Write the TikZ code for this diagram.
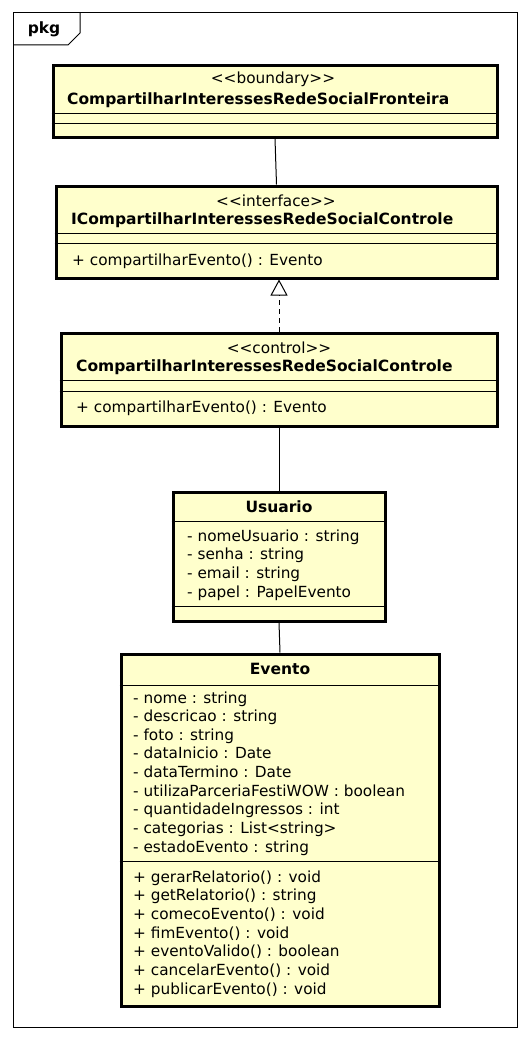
\documentclass[tikz,border=0pt]{standalone}
\usepackage{fontspec}
\setmainfont{DejaVu Sans}
\usetikzlibrary{arrows.meta}
\definecolor{clsfill}{RGB}{255,255,204}
\newcommand{\stereo}[1]{<\kern0pt<#1>\kern0pt>}
\begin{document}
\begin{tikzpicture}[x=1pt,y=-1pt,
  cls/.style={draw, line width=3pt, fill=clsfill, inner sep=0pt, rectangle},
  sep/.style={line width=1pt},
  txt/.style={inner sep=0pt, anchor=west, text height=11pt, text depth=3pt, font=\fontsize{15.3}{18}\selectfont},
  ttl/.style={inner sep=0pt, text height=11pt, text depth=3pt, font=\fontsize{15.5}{18}\selectfont\bfseries},
  ttlw/.style={ttl, anchor=west},
  st/.style={inner sep=0pt, text height=11pt, text depth=3pt, font=\fontsize{15.3}{18}\selectfont},
  conn/.style={line width=1pt},
]
\useasboundingbox (0,0) rectangle (530,1041);
% package frame
\draw[line width=1pt] (13,13) rectangle (517,1027);
\draw[line width=1pt] (13,45) -- (68,45) -- (80,33) -- (80,13);
\node[ttl] (pkg) at (44,30) {pkg};

% boundary
\node[cls, minimum width=444pt, minimum height=71pt] (b1) at (275,101.5) {};
\node[st] (b1s) at (273,80) {\stereo{boundary}};
\node[ttlw] (b1n) at (67,100) {CompartilharInteressesRedeSocialFronteira};
\draw[sep] (b1.west |- 0,113) -- (b1.east |- 0,113);
\draw[sep] (b1.west |- 0,123) -- (b1.east |- 0,123);

% interface
\node[cls, minimum width=441pt, minimum height=92pt] (b2) at (276.5,232) {};
\node[st] (b2s) at (276,202) {\stereo{interface}};
\node[ttlw] (b2n) at (71,220) {ICompartilharInteressesRedeSocialControle};
\draw[sep] (b2.west |- 0,233) -- (b2.east |- 0,233);
\draw[sep] (b2.west |- 0,243) -- (b2.east |- 0,243);
\node[txt] (b2m) at (72,261) {+ compartilharEvento() : Evento};

% control
\node[cls, minimum width=436pt, minimum height=93pt] (b3) at (279,379.5) {};
\node[st] (b3s) at (279,349) {\stereo{control}};
\node[ttlw] (b3n) at (76,367) {CompartilharInteressesRedeSocialControle};
\draw[sep] (b3.west |- 0,380) -- (b3.east |- 0,380);
\draw[sep] (b3.west |- 0,391) -- (b3.east |- 0,391);
\node[txt] (b3m) at (76,408) {+ compartilharEvento() : Evento};

% Usuario
\node[cls, minimum width=212pt, minimum height=129pt] (b4) at (279,556.5) {};
\node[ttl] (b4n) at (279,508) {Usuario};
\draw[sep] (b4.west |- 0,521) -- (b4.east |- 0,521);
\foreach \t [count=\i from 0] in {- nomeUsuario : string, - senha : string, - email : string, - papel : PapelEvento}
  \node[txt] (ua\i) at (187,537+18.67*\i) {\t};
\draw[sep] (b4.west |- 0,606) -- (b4.east |- 0,606);

% Evento
\node[cls, minimum width=318pt, minimum height=352pt] (b5) at (280,830) {};
\node[ttl] (b5n) at (280,670) {Evento};
\draw[sep] (b5.west |- 0,685) -- (b5.east |- 0,685);
\foreach \t [count=\i from 0] in {- nome : string, - descricao : string, - foto : string, - dataInicio : Date, - dataTermino : Date, - utilizaParceriaFestiWOW : boolean, - quantidadeIngressos : int, - categorias : List<string>, - estadoEvento : string}
  \node[txt] (ea\i) at (133,699+18.63*\i) {\t};
\draw[sep] (b5.west |- 0,861) -- (b5.east |- 0,861);
\foreach \t [count=\i from 0] in {+ gerarRelatorio() : void, + getRelatorio() : string, + comecoEvento() : void, + fimEvento() : void, + eventoValido() : boolean, + cancelarEvento() : void, + publicarEvento() : void}
  \node[txt] (em\i) at (133,878+18.67*\i) {\t};

% connectors
\draw[conn] (b1.south) -- (b2.north);
\draw[conn, dashed, dash pattern=on 5pt off 4pt, -{Triangle[open, length=16pt, width=17pt, line width=1pt]}] (b3.north) -- (b3.north |- b2.south);
\draw[conn] (b3.south) -- (b4.north);
\draw[conn] (b4.south) -- (b5.north);
\end{tikzpicture}
\end{document}
